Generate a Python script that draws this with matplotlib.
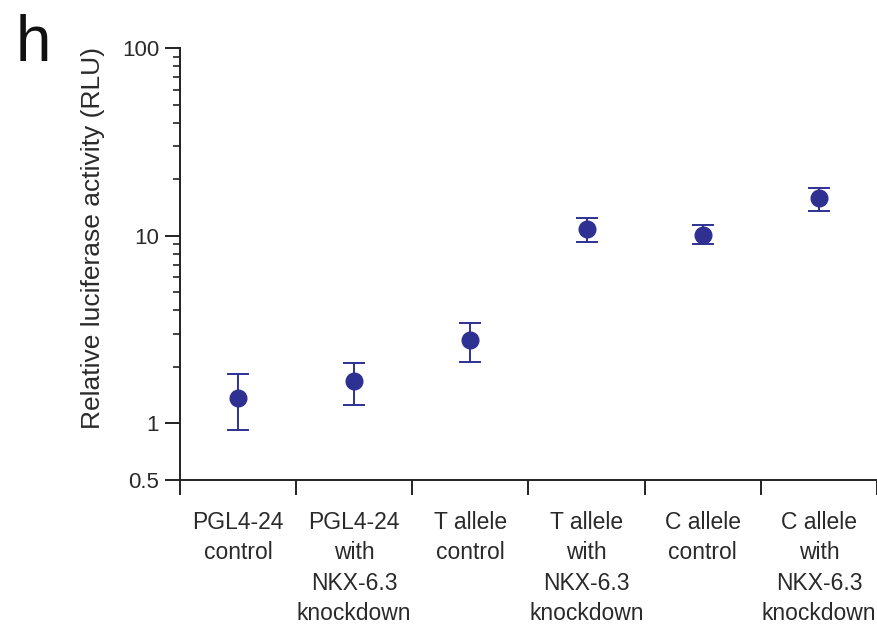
import matplotlib
matplotlib.use("Agg")
import matplotlib.pyplot as plt
from matplotlib.ticker import FixedLocator, NullFormatter
import numpy as np

categories = ["PGL4-24\ncontrol", "PGL4-24\nwith\nNKX-6.3\nknockdown",
              "T allele\ncontrol", "T allele\nwith\nNKX-6.3\nknockdown",
              "C allele\ncontrol", "C allele\nwith\nNKX-6.3\nknockdown"]
means = [1.37, 1.68, 2.78, 10.85, 10.1, 15.8]
upper = [1.83, 2.11, 3.44, 12.4, 11.4, 17.9]
lower = [0.92, 1.26, 2.12, 9.3, 9.0, 13.5]
yticks = [0.5, 1, 10, 100]
ytick_labels = ["0.5", "1", "10", "100"]
minor_y = [2, 3, 4, 5, 6, 7, 8, 9, 20, 30, 40, 50, 60, 70, 80, 90]

plt.rcParams['font.family'] = ['Liberation Sans', 'DejaVu Sans']
color = "#2E3192"
textc = "#2a2a2a"

fig = plt.figure(figsize=(8.78, 6.24), dpi=100)
ax = fig.add_axes([180/878, 1-480/624, 697/878, 432/624])

x = np.arange(len(categories))
m = np.array(means)
yerr = np.vstack([m - np.array(lower), np.array(upper) - m])
ax.errorbar(x, m, yerr=yerr, fmt='o', color=color, markersize=12,
            elinewidth=1.4, capsize=8, capthick=1.4, clip_on=False, zorder=3)

ax.set_yscale('log')
ax.set_ylim(0.5, 100)
ax.set_xlim(-0.5, 5.5)
ax.yaxis.set_major_locator(FixedLocator(yticks))
ax.set_yticklabels(ytick_labels)
ax.yaxis.set_minor_locator(FixedLocator(minor_y))
ax.yaxis.set_minor_formatter(NullFormatter())

ax.set_xticks(np.arange(-0.5, 6.0, 1.0))
ax.set_xticklabels([])
ax.set_xticks(x, categories, minor=True)
ax.tick_params(axis='x', which='minor', length=0, pad=22, labelsize=16.5,
               labelcolor=textc)
for lab in ax.get_xticklabels(minor=True):
    lab.set_linespacing(1.42)
    lab.set_verticalalignment('top')

ax.tick_params(axis='both', which='major', length=11, width=1.4, color='#222222')
ax.tick_params(axis='y', which='minor', length=5, width=1.2, color='#222222')
ax.tick_params(axis='y', which='major', labelsize=16, pad=4, labelcolor=textc)

for s in ['top', 'right']:
    ax.spines[s].set_visible(False)
for s in ['left', 'bottom']:
    ax.spines[s].set_linewidth(1.4)
    ax.spines[s].set_color('#222222')

ax.set_ylabel("Relative luciferase activity (RLU)", fontsize=19, color=textc)
ax.yaxis.set_label_coords(-0.108, 0.56)

fig.text(0.018, 0.978, "h", fontsize=46, va='top', ha='left', color='#111111')

fig.savefig("out.png", dpi=100)
